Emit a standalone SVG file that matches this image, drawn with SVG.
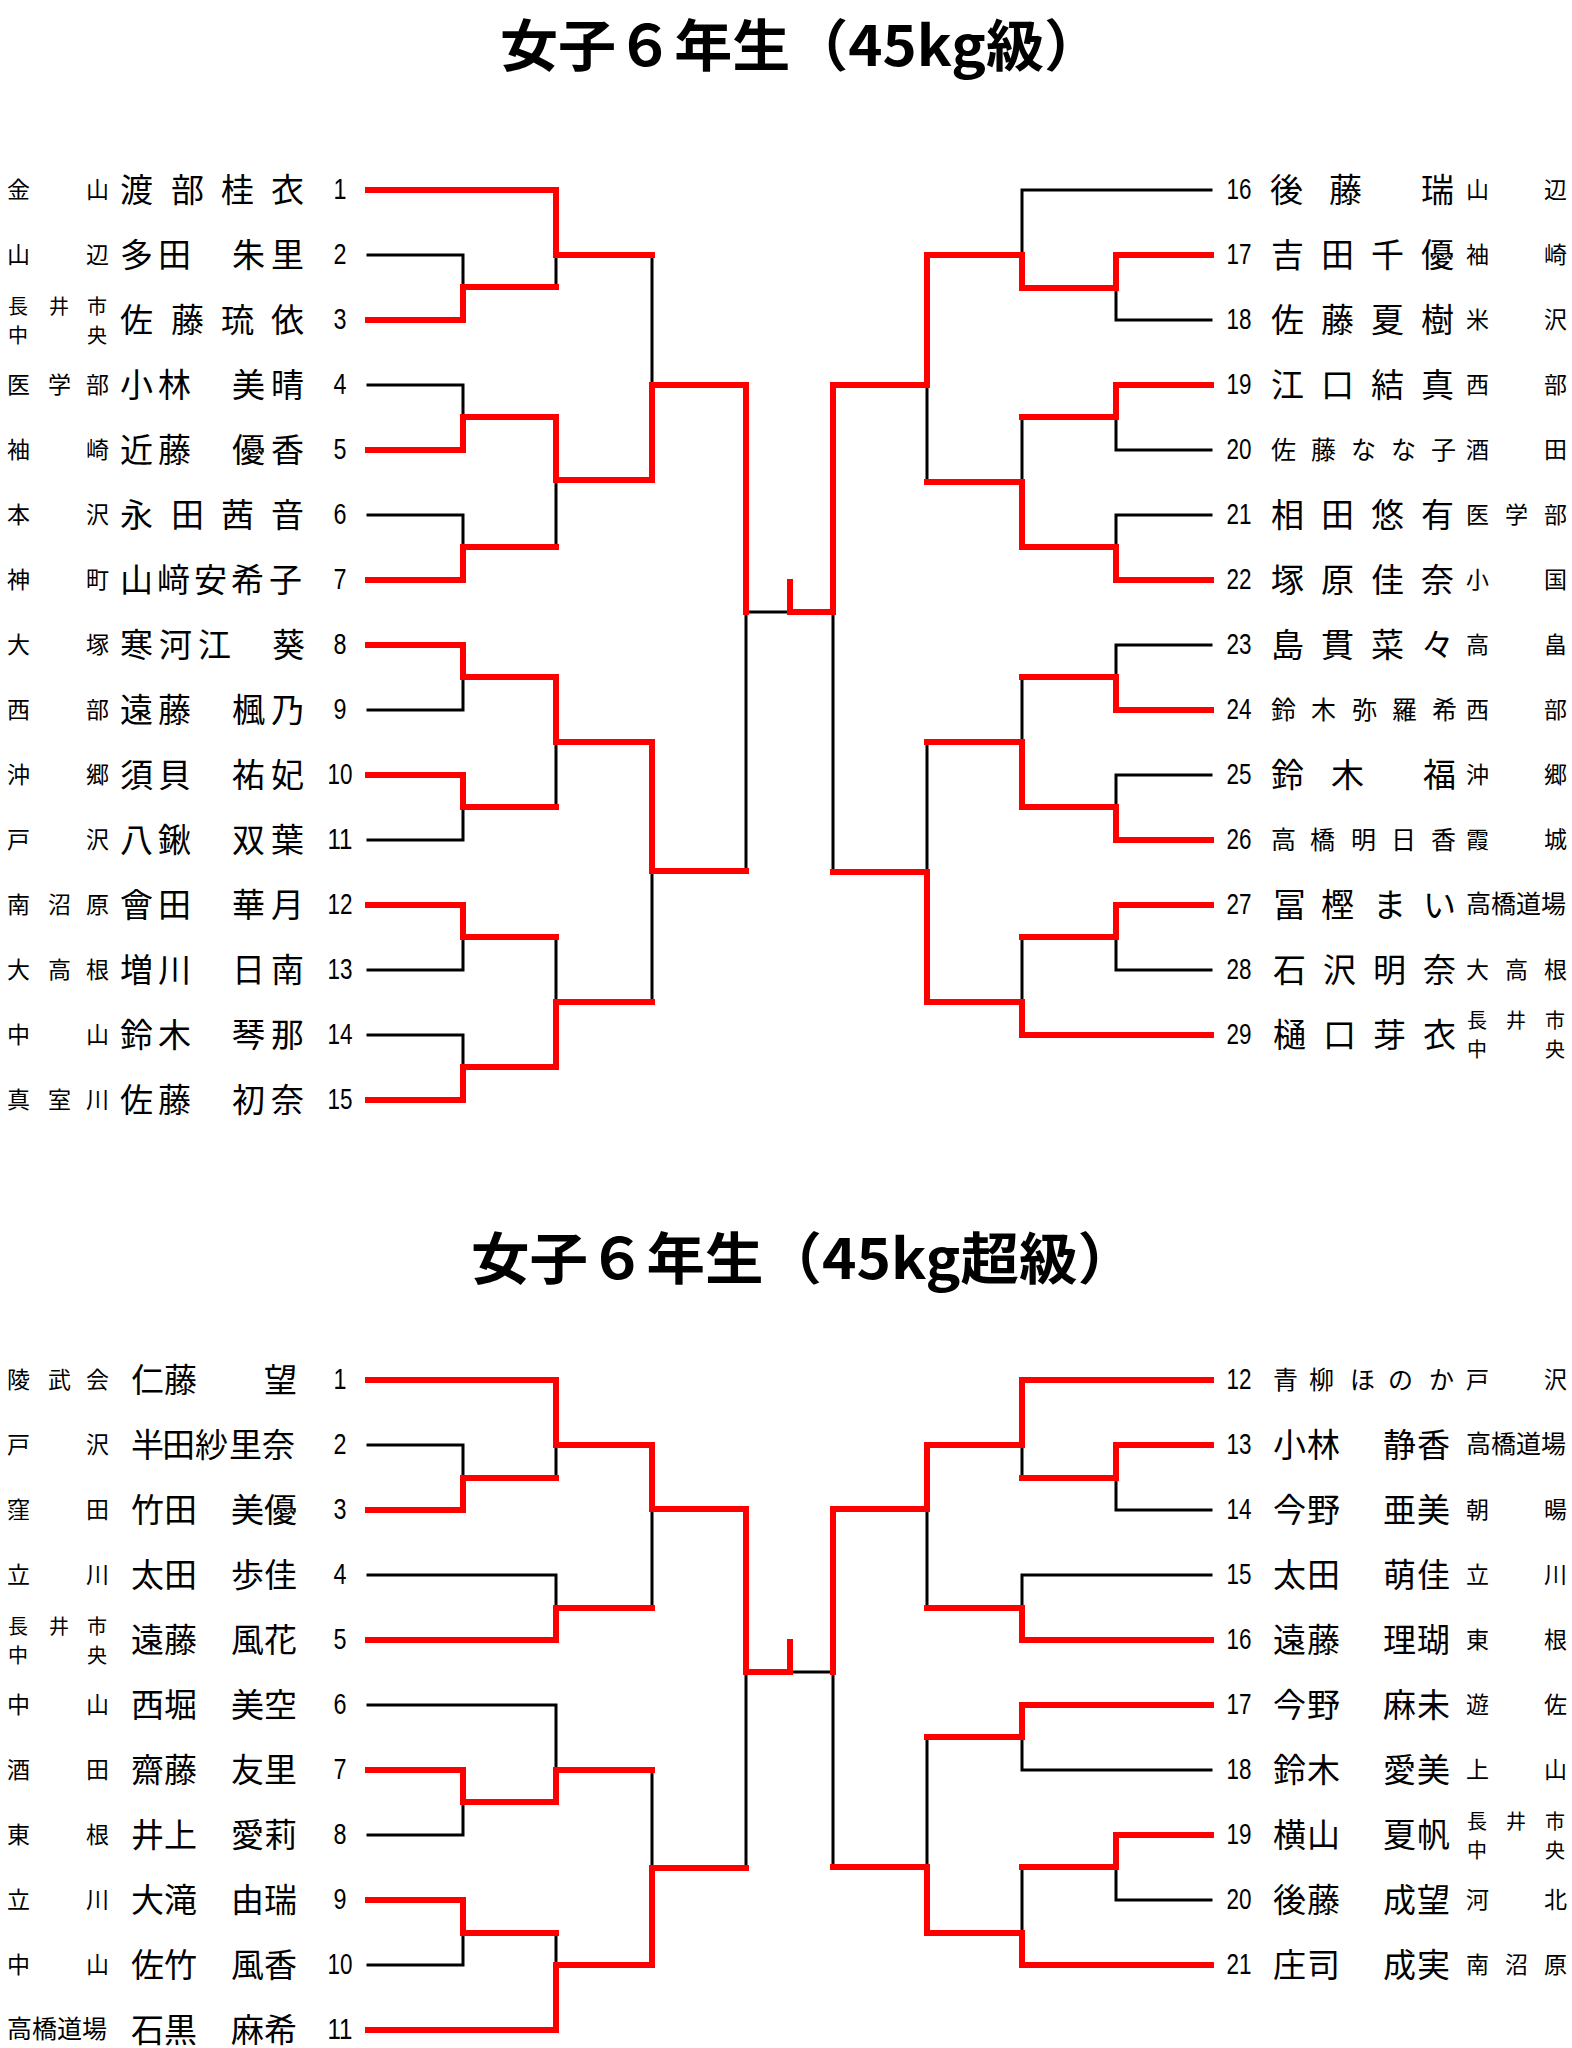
<svg xmlns="http://www.w3.org/2000/svg" width="1572" height="2048" viewBox="0 0 1572 2048">
<style>
text{font-family:"Noto Sans CJK JP","Noto Sans CJK SC",sans-serif;fill:#000}
.ttl{font-size:56px;font-weight:bold}
.nm{font-size:33px}
.ns{font-size:25px}
.sc{font-size:23px}
.s2{font-size:20px}
.s4{font-size:25px}
.no{font-family:"Liberation Sans",Arial,sans-serif;font-size:29px;text-anchor:middle}
.bk{stroke:#000;stroke-width:3;fill:none;stroke-linecap:square}
.rd{stroke:#f00;stroke-width:6;fill:none;stroke-linejoin:miter;stroke-linecap:square}
</style>
<rect width="1572" height="2048" fill="#fff"/>
<text class="ttl" x="500" y="66" textLength="602" lengthAdjust="spacingAndGlyphs">女子６年生（45kg級）</text>
<text class="ttl" x="471" y="1279" textLength="665" lengthAdjust="spacingAndGlyphs">女子６年生（45kg超級）</text>

<g id="connectors">
<g class="bk">
<path d="M368 255H463V287M556 255V287M368 385H463V417M368 515H463V547M556 480V547M652 255V385M368 710H463V677M368 840H463V807M556 742V807M368 970H463V937M368 1035H463V1067M556 937V1002M652 871V1002M746 612V871M746 612H790"/>
<path d="M1211 190H1022V255M1211 320H1116V288M1211 450H1116V417M1211 515H1116V547M1022 417V482M927 385V482M1211 645H1116V677M1211 775H1116V807M1022 677V742M1211 970H1116V937M1022 937V1002M927 742V872M833 612V872"/>
<path d="M368 1445H463V1478M556 1445V1478M368 1575H556V1608M652 1509V1608M368 1705H556V1770M368 1835H463V1802M368 1965H463V1933M556 1933V1965M652 1770V1868M746 1672V1868"/>
<path d="M1211 1510H1116V1478M1022 1445V1478M1211 1575H1022V1608M927 1509V1608M1211 1770H1022V1737M1211 1900H1116V1867M1022 1867V1933M927 1737V1867M833 1672V1867M790 1672H833"/>
</g>
<g class="rd">
<polyline points="368,190 556,190 556,255 652,255"/>
<polyline points="368,320 463,320 463,287 556,287"/>
<polyline points="368,450 463,450 463,417 556,417 556,480 652,480 652,385 746,385 746,612"/>
<polyline points="368,580 463,580 463,547 556,547"/>
<polyline points="368,645 463,645 463,677 556,677 556,742 652,742 652,871 746,871"/>
<polyline points="368,775 463,775 463,807 556,807"/>
<polyline points="368,905 463,905 463,937 556,937"/>
<polyline points="368,1100 463,1100 463,1067 556,1067 556,1002 652,1002"/>
<polyline points="1211,255 1116,255 1116,288 1022,288 1022,255 927,255 927,385 833,385 833,612 790,612 790,582"/>
<polyline points="1211,385 1116,385 1116,417 1022,417"/>
<polyline points="1211,580 1116,580 1116,547 1022,547 1022,482 927,482"/>
<polyline points="1211,710 1116,710 1116,677 1022,677"/>
<polyline points="1211,840 1116,840 1116,807 1022,807 1022,742 927,742"/>
<polyline points="1211,905 1116,905 1116,937 1022,937"/>
<polyline points="1211,1035 1022,1035 1022,1002 927,1002 927,872 833,872"/>
<polyline points="368,1380 556,1380 556,1445 652,1445 652,1509 746,1509 746,1672 790,1672 790,1642"/>
<polyline points="368,1510 463,1510 463,1478 556,1478"/>
<polyline points="368,1640 556,1640 556,1608 652,1608"/>
<polyline points="368,1770 463,1770 463,1802 556,1802 556,1770 652,1770"/>
<polyline points="368,1900 463,1900 463,1933 556,1933"/>
<polyline points="368,2030 556,2030 556,1965 652,1965 652,1868 746,1868"/>
<polyline points="1211,1380 1022,1380 1022,1445 927,1445 927,1509 833,1509 833,1672"/>
<polyline points="1211,1445 1116,1445 1116,1478 1022,1478"/>
<polyline points="1211,1640 1022,1640 1022,1608 927,1608"/>
<polyline points="1211,1705 1022,1705 1022,1737 927,1737"/>
<polyline points="1211,1835 1116,1835 1116,1867 1022,1867"/>
<polyline points="1211,1965 1022,1965 1022,1933 927,1933 927,1867 833,1867"/>
</g>
</g>

<g id="u1"><text class="sc" x="7 86" y="198">金山</text><text class="nm" x="120 171 221 271" y="202">渡部桂衣</text><text class="no" x="340" y="199" textLength="13" lengthAdjust="spacingAndGlyphs">1</text></g>
<g id="u2"><text class="sc" x="7 86" y="263">山辺</text><text class="nm" x="120 158 232 271" y="267">多田朱里</text><text class="no" x="340" y="264" textLength="13" lengthAdjust="spacingAndGlyphs">2</text></g>
<g id="u3"><text class="s2" x="8 49 87" y="314">長井市</text><text class="s2" x="8 87" y="343">中央</text><text class="nm" x="120 171 221 271" y="332">佐藤琉依</text><text class="no" x="340" y="329" textLength="13" lengthAdjust="spacingAndGlyphs">3</text></g>
<g id="u4"><text class="sc" x="7 48 86" y="393">医学部</text><text class="nm" x="120 158 232 271" y="397">小林美晴</text><text class="no" x="340" y="394" textLength="13" lengthAdjust="spacingAndGlyphs">4</text></g>
<g id="u5"><text class="sc" x="7 86" y="458">袖崎</text><text class="nm" x="120 158 232 271" y="462">近藤優香</text><text class="no" x="340" y="459" textLength="13" lengthAdjust="spacingAndGlyphs">5</text></g>
<g id="u6"><text class="sc" x="7 86" y="523">本沢</text><text class="nm" x="120 171 221 271" y="527">永田茜音</text><text class="no" x="340" y="524" textLength="13" lengthAdjust="spacingAndGlyphs">6</text></g>
<g id="u7"><text class="sc" x="7 86" y="588">神町</text><text class="nm" x="120 157 194 231 269" y="592">山﨑安希子</text><text class="no" x="340" y="589" textLength="13" lengthAdjust="spacingAndGlyphs">7</text></g>
<g id="u8"><text class="sc" x="7 86" y="653">大塚</text><text class="nm" x="120 159 198 272" y="657">寒河江葵</text><text class="no" x="340" y="654" textLength="13" lengthAdjust="spacingAndGlyphs">8</text></g>
<g id="u9"><text class="sc" x="7 86" y="718">西部</text><text class="nm" x="120 158 232 271" y="722">遠藤楓乃</text><text class="no" x="340" y="719" textLength="13" lengthAdjust="spacingAndGlyphs">9</text></g>
<g id="u10"><text class="sc" x="7 86" y="783">沖郷</text><text class="nm" x="120 158 232 271" y="787">須貝祐妃</text><text class="no" x="340" y="784" textLength="25" lengthAdjust="spacingAndGlyphs">10</text></g>
<g id="u11"><text class="sc" x="7 86" y="848">戸沢</text><text class="nm" x="120 158 232 271" y="852">八鍬双葉</text><text class="no" x="340" y="849" textLength="25" lengthAdjust="spacingAndGlyphs">11</text></g>
<g id="u12"><text class="sc" x="7 48 86" y="913">南沼原</text><text class="nm" x="120 158 232 271" y="917">會田華月</text><text class="no" x="340" y="914" textLength="25" lengthAdjust="spacingAndGlyphs">12</text></g>
<g id="u13"><text class="sc" x="7 48 86" y="978">大高根</text><text class="nm" x="120 158 232 271" y="982">増川日南</text><text class="no" x="340" y="979" textLength="25" lengthAdjust="spacingAndGlyphs">13</text></g>
<g id="u14"><text class="sc" x="7 86" y="1043">中山</text><text class="nm" x="120 158 232 271" y="1047">鈴木琴那</text><text class="no" x="340" y="1044" textLength="25" lengthAdjust="spacingAndGlyphs">14</text></g>
<g id="u15"><text class="sc" x="7 48 86" y="1108">真室川</text><text class="nm" x="120 158 232 271" y="1112">佐藤初奈</text><text class="no" x="340" y="1109" textLength="25" lengthAdjust="spacingAndGlyphs">15</text></g>

<g id="u16"><text class="no" x="1239" y="199" textLength="25" lengthAdjust="spacingAndGlyphs">16</text><text class="nm" x="1270 1329 1421" y="202">後藤瑞</text><text class="sc" x="1466 1544" y="198">山辺</text></g>
<g id="u17"><text class="no" x="1239" y="264" textLength="25" lengthAdjust="spacingAndGlyphs">17</text><text class="nm" x="1271 1321 1371 1421" y="267">吉田千優</text><text class="sc" x="1466 1544" y="263">袖崎</text></g>
<g id="u18"><text class="no" x="1239" y="329" textLength="25" lengthAdjust="spacingAndGlyphs">18</text><text class="nm" x="1271 1321 1371 1421" y="332">佐藤夏樹</text><text class="sc" x="1466 1544" y="328">米沢</text></g>
<g id="u19"><text class="no" x="1239" y="394" textLength="25" lengthAdjust="spacingAndGlyphs">19</text><text class="nm" x="1271 1321 1371 1421" y="397">江口結真</text><text class="sc" x="1466 1544" y="393">西部</text></g>
<g id="u20"><text class="no" x="1239" y="459" textLength="25" lengthAdjust="spacingAndGlyphs">20</text><text class="ns" x="1271 1311 1351 1391 1431" y="459">佐藤なな子</text><text class="sc" x="1466 1544" y="458">酒田</text></g>
<g id="u21"><text class="no" x="1239" y="524" textLength="25" lengthAdjust="spacingAndGlyphs">21</text><text class="nm" x="1271 1321 1371 1421" y="527">相田悠有</text><text class="sc" x="1466 1505 1544" y="523">医学部</text></g>
<g id="u22"><text class="no" x="1239" y="589" textLength="25" lengthAdjust="spacingAndGlyphs">22</text><text class="nm" x="1271 1321 1371 1421" y="592">塚原佳奈</text><text class="sc" x="1466 1544" y="588">小国</text></g>
<g id="u23"><text class="no" x="1239" y="654" textLength="25" lengthAdjust="spacingAndGlyphs">23</text><text class="nm" x="1271 1321 1371 1421" y="657">島貫菜々</text><text class="sc" x="1466 1544" y="653">高畠</text></g>
<g id="u24"><text class="no" x="1239" y="719" textLength="25" lengthAdjust="spacingAndGlyphs">24</text><text class="ns" x="1271 1311 1352 1392 1432" y="719">鈴木弥羅希</text><text class="sc" x="1466 1544" y="718">西部</text></g>
<g id="u25"><text class="no" x="1239" y="784" textLength="25" lengthAdjust="spacingAndGlyphs">25</text><text class="nm" x="1271 1331 1423" y="787">鈴木福</text><text class="sc" x="1466 1544" y="783">沖郷</text></g>
<g id="u26"><text class="no" x="1239" y="849" textLength="25" lengthAdjust="spacingAndGlyphs">26</text><text class="ns" x="1271 1310 1351 1391 1431" y="849">高橋明日香</text><text class="sc" x="1466 1544" y="848">霞城</text></g>
<g id="u27"><text class="no" x="1239" y="914" textLength="25" lengthAdjust="spacingAndGlyphs">27</text><text class="nm" x="1273 1321 1373 1423" y="917">冨樫まい</text><text class="s4" x="1466" y="913">高橋道場</text></g>
<g id="u28"><text class="no" x="1239" y="979" textLength="25" lengthAdjust="spacingAndGlyphs">28</text><text class="nm" x="1273 1323 1373 1423" y="982">石沢明奈</text><text class="sc" x="1466 1505 1544" y="978">大高根</text></g>
<g id="u29"><text class="no" x="1239" y="1044" textLength="25" lengthAdjust="spacingAndGlyphs">29</text><text class="nm" x="1273 1323 1373 1423" y="1047">樋口芽衣</text><text class="s2" x="1467 1506 1545" y="1028">長井市</text><text class="s2" x="1467 1545" y="1057">中央</text></g>

<g id="l1"><text class="sc" x="7 48 86" y="1388">陵武会</text><text class="nm" x="131 164 264" y="1392">仁藤望</text><text class="no" x="340" y="1389" textLength="13" lengthAdjust="spacingAndGlyphs">1</text></g>
<g id="l2"><text class="sc" x="7 86" y="1453">戸沢</text><text class="nm" x="131 162 195 229 262" y="1457">半田紗里奈</text><text class="no" x="340" y="1454" textLength="13" lengthAdjust="spacingAndGlyphs">2</text></g>
<g id="l3"><text class="sc" x="7 86" y="1518">窪田</text><text class="nm" x="131 164 231 264" y="1522">竹田美優</text><text class="no" x="340" y="1519" textLength="13" lengthAdjust="spacingAndGlyphs">3</text></g>
<g id="l4"><text class="sc" x="7 86" y="1583">立川</text><text class="nm" x="131 164 231 264" y="1587">太田歩佳</text><text class="no" x="340" y="1584" textLength="13" lengthAdjust="spacingAndGlyphs">4</text></g>
<g id="l5"><text class="s2" x="8 49 87" y="1634">長井市</text><text class="s2" x="8 87" y="1663">中央</text><text class="nm" x="131 164 231 264" y="1652">遠藤風花</text><text class="no" x="340" y="1649" textLength="13" lengthAdjust="spacingAndGlyphs">5</text></g>
<g id="l6"><text class="sc" x="7 86" y="1713">中山</text><text class="nm" x="131 164 231 264" y="1717">西堀美空</text><text class="no" x="340" y="1714" textLength="13" lengthAdjust="spacingAndGlyphs">6</text></g>
<g id="l7"><text class="sc" x="7 86" y="1778">酒田</text><text class="nm" x="131 164 231 264" y="1782">齋藤友里</text><text class="no" x="340" y="1779" textLength="13" lengthAdjust="spacingAndGlyphs">7</text></g>
<g id="l8"><text class="sc" x="7 86" y="1843">東根</text><text class="nm" x="131 164 231 264" y="1847">井上愛莉</text><text class="no" x="340" y="1844" textLength="13" lengthAdjust="spacingAndGlyphs">8</text></g>
<g id="l9"><text class="sc" x="7 86" y="1908">立川</text><text class="nm" x="131 164 231 264" y="1912">大滝由瑞</text><text class="no" x="340" y="1909" textLength="13" lengthAdjust="spacingAndGlyphs">9</text></g>
<g id="l10"><text class="sc" x="7 86" y="1973">中山</text><text class="nm" x="131 164 231 264" y="1977">佐竹風香</text><text class="no" x="340" y="1974" textLength="25" lengthAdjust="spacingAndGlyphs">10</text></g>
<g id="l11"><text class="s4" x="7" y="2038">高橋道場</text><text class="nm" x="131 164 231 264" y="2042">石黒麻希</text><text class="no" x="340" y="2039" textLength="25" lengthAdjust="spacingAndGlyphs">11</text></g>

<g id="l12"><text class="no" x="1239" y="1389" textLength="25" lengthAdjust="spacingAndGlyphs">12</text><text class="ns" x="1273 1309 1350 1388 1429" y="1389">青柳ほのか</text><text class="sc" x="1466 1544" y="1388">戸沢</text></g>
<g id="l13"><text class="no" x="1239" y="1454" textLength="25" lengthAdjust="spacingAndGlyphs">13</text><text class="nm" x="1273 1307 1383 1417" y="1457">小林静香</text><text class="s4" x="1466" y="1453">高橋道場</text></g>
<g id="l14"><text class="no" x="1239" y="1519" textLength="25" lengthAdjust="spacingAndGlyphs">14</text><text class="nm" x="1273 1307 1383 1417" y="1522">今野亜美</text><text class="sc" x="1466 1544" y="1518">朝暘</text></g>
<g id="l15"><text class="no" x="1239" y="1584" textLength="25" lengthAdjust="spacingAndGlyphs">15</text><text class="nm" x="1273 1307 1383 1417" y="1587">太田萌佳</text><text class="sc" x="1466 1544" y="1583">立川</text></g>
<g id="l16"><text class="no" x="1239" y="1649" textLength="25" lengthAdjust="spacingAndGlyphs">16</text><text class="nm" x="1273 1307 1383 1417" y="1652">遠藤理瑚</text><text class="sc" x="1466 1544" y="1648">東根</text></g>
<g id="l17"><text class="no" x="1239" y="1714" textLength="25" lengthAdjust="spacingAndGlyphs">17</text><text class="nm" x="1273 1307 1383 1417" y="1717">今野麻未</text><text class="sc" x="1466 1544" y="1713">遊佐</text></g>
<g id="l18"><text class="no" x="1239" y="1779" textLength="25" lengthAdjust="spacingAndGlyphs">18</text><text class="nm" x="1273 1307 1383 1417" y="1782">鈴木愛美</text><text class="sc" x="1466 1544" y="1778">上山</text></g>
<g id="l19"><text class="no" x="1239" y="1844" textLength="25" lengthAdjust="spacingAndGlyphs">19</text><text class="nm" x="1273 1307 1383 1417" y="1847">横山夏帆</text><text class="s2" x="1467 1506 1545" y="1829">長井市</text><text class="s2" x="1467 1545" y="1858">中央</text></g>
<g id="l20"><text class="no" x="1239" y="1909" textLength="25" lengthAdjust="spacingAndGlyphs">20</text><text class="nm" x="1273 1307 1383 1417" y="1912">後藤成望</text><text class="sc" x="1466 1544" y="1908">河北</text></g>
<g id="l21"><text class="no" x="1239" y="1974" textLength="25" lengthAdjust="spacingAndGlyphs">21</text><text class="nm" x="1273 1307 1383 1417" y="1977">庄司成実</text><text class="sc" x="1466 1505 1544" y="1973">南沼原</text></g>
</svg>
